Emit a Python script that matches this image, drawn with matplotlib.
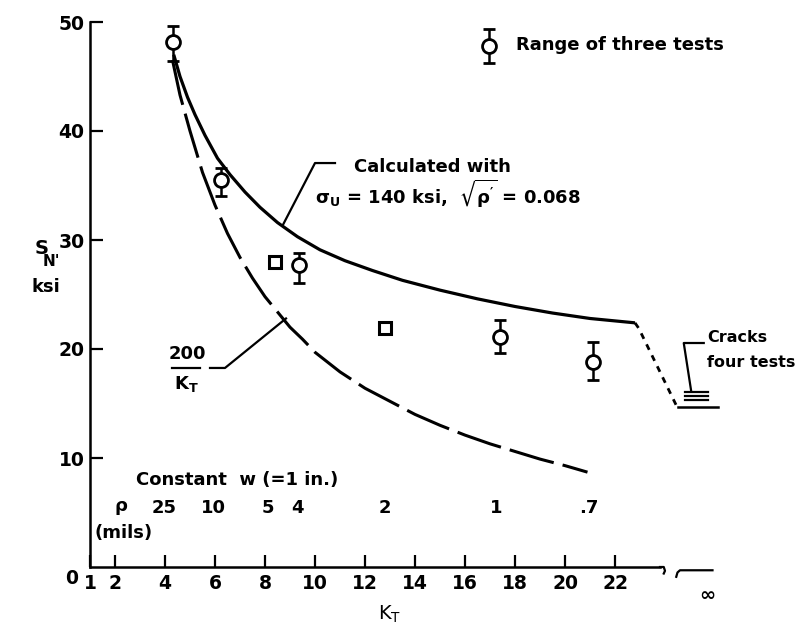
import numpy as np
import matplotlib.pyplot as plt

plt.rcParams['font.family'] = ['DejaVu Sans']
plt.rcParams['font.weight'] = 'bold'
plt.rcParams['font.size'] = 13
plt.rcParams['mathtext.default'] = 'regular'

# notch test results (K_T, S_N' in ksi, range of three tests)
kt_tests = [4.3, 6.25, 9.35, 17.4, 21.1]
sn_tests = [48.2, 35.5, 27.7, 21.1, 18.8]
sn_low = [46.4, 34.0, 26.1, 19.6, 17.2]
sn_high = [49.6, 36.6, 28.8, 22.7, 20.6]

# single-test points
kt_single = [8.4, 12.8]
sn_single = [28.0, 21.9]

# calculated curve, sigma_u = 140 ksi, sqrt(rho') = 0.068
kt_calc = [4.35, 4.6, 4.9, 5.2, 5.6, 6.1, 6.6, 7.2, 7.8, 8.5, 9.3, 10.2, 11.2,
           12.3, 13.5, 15.0, 16.5, 18.0, 19.5, 21.0, 22.8]
sn_calc = [47.0, 45.0, 43.1, 41.5, 39.6, 37.5, 36.0, 34.4, 33.0, 31.6, 30.3, 29.1, 28.1,
           27.2, 26.3, 25.4, 24.6, 23.9, 23.3, 22.8, 22.4]

# calculated curve beyond the break, down to K_T = infinity
kt_tail = [22.8, 22.95, 24.5]
sn_tail = [22.4, 21.9, 14.6]

# 200 / K_T curve
kt_200 = [4.3, 4.6, 5.0, 5.5, 6.0, 6.5, 7.0, 7.5, 8.0, 8.5, 9.0, 9.5, 10, 11, 12,
          13, 14, 15, 16, 17, 18, 19, 20, 20.9]
sn_200 = [46.5, 43.3, 40.0, 36.2, 33.2, 30.6, 28.4, 26.5, 24.8, 23.4, 22.0, 20.9, 19.7,
          17.9, 16.4, 15.2, 14.0, 13.0, 12.1, 11.3, 10.6, 9.9, 9.3, 8.7]

# cracked specimens at K_T = infinity
sn_cracks = [16.1, 15.7, 15.3, 14.7]

# notch root radius, mils (constant w = 1 in.)
rho_labels = ['25', '10', '5', '4', '2', '1', '.7']
rho_x = [3.95, 5.95, 8.1, 9.3, 12.8, 17.25, 20.95]

xticks = [1, 2, 4, 6, 8, 10, 12, 14, 16, 18, 20, 22]

fig = plt.figure(figsize=(7.99, 6.29), dpi=100)
ax = fig.add_axes([90 / 799, 62 / 629, 570 / 799, 545 / 629])
ax.set_xlim(1, 23.8)
ax.set_ylim(0, 50)

for s in ['top', 'right']:
    ax.spines[s].set_visible(False)
for s in ['left', 'bottom']:
    ax.spines[s].set_linewidth(1.8)

ax.set_xticks(xticks)
ax.set_xticklabels([str(t) for t in xticks])
ax.set_yticks([10, 20, 30, 40, 50])
ax.tick_params(axis='x', direction='in', length=9, width=1.6, pad=5, labelsize=13.5)
ax.tick_params(axis='y', direction='in', length=9, width=1.6, pad=4, labelsize=13.5)
ax.text(0.28, -0.2, '0', ha='center', va='top', fontsize=13.5)

ax.set_xlabel(r'K$_T$', fontsize=14)
ax.xaxis.set_label_coords(300 / 570, -0.068)

# y label
ax.text(-0.95, 29.2, 'S', ha='center', va='center', fontsize=14, clip_on=False)
ax.text(-0.55, 28.0, "N'", ha='center', va='center', fontsize=11, clip_on=False)
ax.text(-0.75, 25.7, 'ksi', ha='center', va='center', fontsize=13, clip_on=False)

# broken x axis out to infinity
ax.plot([23.8, 23.95, 24.0, 23.95], [0, 0, -0.35, -0.6], color='black', lw=1.6, clip_on=False)
ax.plot([24.45, 24.5, 24.6, 25.9], [-0.9, -0.5, -0.3, -0.3], color='black', lw=1.6, clip_on=False)
ax.text(25.7, -2.4, r'$\infty$', ha='center', va='center', fontsize=14, clip_on=False)

# curves
ax.plot(kt_calc, sn_calc, color='black', lw=2.3, solid_capstyle='butt')
ax.plot(kt_tail, sn_tail, color='black', lw=2.0, dashes=(2.2, 2.2), clip_on=False)
ax.plot(kt_200, sn_200, color='black', lw=2.2, dashes=(15, 3))

# test points
ax.errorbar(kt_tests, sn_tests,
            yerr=[np.subtract(sn_tests, sn_low), np.subtract(sn_high, sn_tests)],
            fmt='o', ms=10, mfc='white', mec='black', mew=2, ecolor='black',
            elinewidth=1.8, capsize=4, capthick=1.8, zorder=5)
ax.plot(kt_single, sn_single, 's', ms=9, mfc='white', mec='black', mew=2.2, zorder=5)

# cracked specimens
for i, s in enumerate(sn_cracks):
    if i < len(sn_cracks) - 1:
        ax.plot([24.8, 25.7], [s, s], color='black', lw=1.6, clip_on=False)
    else:
        ax.plot([24.5, 26.1], [s, s], color='black', lw=1.8, clip_on=False)
ax.plot([25.55, 24.75, 25.05], [20.55, 20.55, sn_cracks[0]], color='black', lw=1.6, clip_on=False)
ax.text(25.68, 21.1, 'Cracks', ha='left', va='center', fontsize=11.5, clip_on=False)
ax.text(25.68, 18.8, 'four tests', ha='left', va='center', fontsize=11.5, clip_on=False)

# label for calculated curve
ax.plot([8.72, 10.0, 10.8], [31.4, 37.06, 37.06], color='black', lw=1.6)
ax.text(14.7, 36.7, 'Calculated with', ha='center', va='center', fontsize=13)
ax.text(10.0, 34.2, r'$\sigma_U$ = 140 ksi,  $\sqrt{\rho^{\prime}}$ = 0.068',
        ha='left', va='center', fontsize=13)

# label for 200/K_T curve
ax.plot([5.8, 6.4, 8.84], [18.26, 18.26, 22.8], color='black', lw=1.6)
ax.text(4.88, 19.5, '200', ha='center', va='center', fontsize=13)
ax.plot([4.28, 5.4], [18.26, 18.26], color='black', lw=1.6)
ax.text(4.85, 16.8, r'K$_T$', ha='center', va='center', fontsize=13)

# legend
ax.errorbar([16.96], [47.8], yerr=[[1.6], [1.6]], fmt='o', ms=10, mfc='white',
            mec='black', mew=2, ecolor='black', elinewidth=1.8, capsize=4, capthick=1.8)
ax.text(18.05, 47.9, 'Range of three tests', ha='left', va='center', fontsize=13)

# notch radius scale
ax.text(6.9, 8.0, 'Constant  w (=1 in.)', ha='center', va='center', fontsize=13)
ax.text(2.24, 5.4, r'$\rho$', ha='center', va='center', fontsize=13)
ax.text(2.36, 3.1, '(mils)', ha='center', va='center', fontsize=13)
for lab, x in zip(rho_labels, rho_x):
    ax.text(x, 5.4, lab, ha='center', va='center', fontsize=13)

fig.savefig('out.png', dpi=100)
